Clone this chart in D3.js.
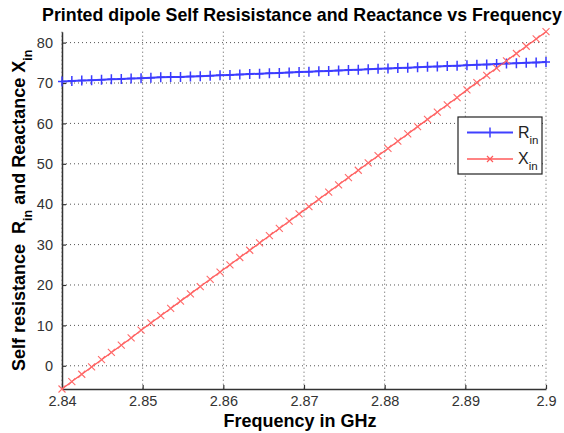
<!DOCTYPE html>
<html>
<head>
<meta charset="utf-8">
<script src="https://cdn.jsdelivr.net/npm/d3@7"></script>
<style>
body { margin: 0; background: #fff; }
svg { font-family: "Liberation Sans", Arial, sans-serif; }
.grid line { stroke: #555; stroke-dasharray: 1,3; }
</style>
</head>
<body>
<div id="chart"></div>
<script>
// frequency points (GHz), 50 samples
var freq = [2.84, 2.84122, 2.84245, 2.84367, 2.8449, 2.84612, 2.84735, 2.84857, 2.8498, 2.85102,
    2.85224, 2.85347, 2.85469, 2.85592, 2.85714, 2.85837, 2.85959, 2.86082, 2.86204, 2.86327,
    2.86449, 2.86571, 2.86694, 2.86816, 2.86939, 2.87061, 2.87184, 2.87306, 2.87429, 2.87551,
    2.87673, 2.87796, 2.87918, 2.88041, 2.88163, 2.88286, 2.88408, 2.88531, 2.88653, 2.88776,
    2.88898, 2.8902, 2.89143, 2.89265, 2.89388, 2.8951, 2.89633, 2.89755, 2.89878, 2.9];
var rin = [70.4, 70.5, 70.6, 70.7, 70.8, 70.9, 71.0, 71.1, 71.2, 71.3,
    71.4, 71.5, 71.5, 71.6, 71.7, 71.8, 71.9, 72.0, 72.1, 72.2,
    72.3, 72.4, 72.5, 72.6, 72.7, 72.8, 72.9, 73.0, 73.1, 73.2,
    73.3, 73.4, 73.5, 73.6, 73.7, 73.8, 73.9, 74.0, 74.1, 74.2,
    74.3, 74.4, 74.5, 74.6, 74.7, 74.8, 74.9, 75.0, 75.1, 75.2];
var xin = [-5.75, -3.9, -2.1, -0.3, 1.5, 3.3, 5.1, 6.9, 8.8, 10.6,
    12.4, 14.2, 16.0, 17.8, 19.6, 21.4, 23.2, 25.0, 26.8, 28.6,
    30.4, 32.2, 34.0, 35.8, 37.6, 39.4, 41.2, 43.0, 44.8, 46.6,
    48.4, 50.2, 52.0, 53.8, 55.6, 57.4, 59.2, 61.0, 62.8, 64.6,
    66.4, 68.3, 70.1, 71.9, 73.7, 75.5, 77.3, 79.1, 80.9, 82.7];
var xTicks = [2.84, 2.85, 2.86, 2.87, 2.88, 2.89, 2.9];
var yTicks = [0, 10, 20, 30, 40, 50, 60, 70, 80];

var width = 564, height = 433;
var pLeft = 62, pRight = 546, pTop = 31.7, pBottom = 389;

var svg = d3.select("#chart").append("svg")
    .attr("width", width)
    .attr("height", height);

var x = d3.scaleLinear().domain([2.84, 2.9]).range([pLeft, pRight]);
var y = d3.scaleLinear().domain([-5.75, 82.7]).range([pBottom, pTop]);

// grid
var grid = svg.append("g").attr("class", "grid");
grid.selectAll(".gx").data(xTicks).enter().append("line")
    .attr("x1", function (d) { return x(d); }).attr("x2", function (d) { return x(d); })
    .attr("y1", pTop).attr("y2", pBottom);
grid.selectAll(".gy").data(yTicks).enter().append("line")
    .attr("x1", pLeft).attr("x2", pRight)
    .attr("y1", function (d) { return y(d); }).attr("y2", function (d) { return y(d); });

// axes with inward ticks
var xAxis = svg.append("g")
    .attr("transform", "translate(0," + pBottom + ")")
    .call(d3.axisBottom(x).tickValues(xTicks).tickSizeInner(-4).tickSizeOuter(0).tickPadding(7)
        .tickFormat(function (d) { return String(+d.toFixed(2)); }));
var yAxis = svg.append("g")
    .attr("transform", "translate(" + pLeft + ",0)")
    .call(d3.axisLeft(y).tickValues(yTicks).tickSizeInner(-4).tickSizeOuter(0).tickPadding(9));

[xAxis, yAxis].forEach(function (a) {
    a.select(".domain").attr("stroke", "#333").attr("stroke-width", 1.5);
    a.selectAll(".tick line").attr("stroke", "#333").attr("stroke-width", 1.2);
    a.selectAll(".tick text").attr("fill", "#333").style("font-size", "14.5px")
        .style("font-family", "'Liberation Sans', Arial, sans-serif");
});

// lines
var line = function (vals) {
    return d3.line()
        .x(function (d, i) { return x(freq[i]); })
        .y(function (d) { return y(d); })(vals);
};

svg.append("path").attr("d", line(rin))
    .attr("fill", "none").attr("stroke", "#4040ff").attr("stroke-width", 2);
svg.append("path").attr("d", line(xin))
    .attr("fill", "none").attr("stroke", "#ff5a5a").attr("stroke-width", 1.3);

// markers
svg.append("g").selectAll("path").data(rin).enter().append("path")
    .attr("d", function (d, i) {
        var cx = x(freq[i]), cy = y(d);
        return "M" + (cx - 4) + "," + cy + "H" + (cx + 4) + "M" + cx + "," + (cy - 5) + "V" + (cy + 5);
    })
    .attr("stroke", "#3a3aff").attr("stroke-width", 1.5);
svg.append("g").selectAll("path").data(xin).enter().append("path")
    .attr("d", function (d, i) {
        var cx = x(freq[i]), cy = y(d);
        return "M" + (cx - 3.5) + "," + (cy - 3.5) + "L" + (cx + 3.5) + "," + (cy + 3.5) +
            "M" + (cx - 3.5) + "," + (cy + 3.5) + "L" + (cx + 3.5) + "," + (cy - 3.5);
    })
    .attr("stroke", "#ff6a6a").attr("stroke-width", 1.1);

// title
svg.append("text")
    .attr("x", (pLeft + pRight) / 2 - 2).attr("y", 21)
    .attr("text-anchor", "middle")
    .style("font-size", "17.8px").style("font-weight", "bold")
    .text("Printed dipole Self Resisistance and Reactance vs Frequency");

// x label
svg.append("text")
    .attr("x", (pLeft + pRight) / 2 - 4).attr("y", 427)
    .attr("text-anchor", "middle")
    .style("font-size", "18px").style("font-weight", "bold")
    .text("Frequency in GHz");

// y label
var yl = svg.append("text")
    .attr("transform", "translate(25," + ((pTop + pBottom) / 2) + ") rotate(-90)")
    .attr("text-anchor", "middle")
    .style("font-size", "18px").style("font-weight", "bold");
yl.append("tspan").text("Self resistance \u00a0R");
yl.append("tspan").attr("baseline-shift", "sub").style("font-size", "12.5px").text("in");
yl.append("tspan").text(" and Reactance X");
yl.append("tspan").attr("baseline-shift", "sub").style("font-size", "12.5px").text("in");

// legend
var lg = svg.append("g");
lg.append("rect").attr("x", 458).attr("y", 117).attr("width", 84).attr("height", 57)
    .attr("fill", "#fff").attr("stroke", "#222").attr("stroke-width", 1.2);
var legendItems = [
    { name: "R", color: "#4040ff", y: 132.5, mark: "plus" },
    { name: "X", color: "#ff5a5a", y: 159, mark: "x" }
];
legendItems.forEach(function (it) {
    lg.append("line").attr("x1", 467).attr("x2", 513).attr("y1", it.y).attr("y2", it.y)
        .attr("stroke", it.color).attr("stroke-width", it.mark == "plus" ? 2 : 1.5);
    var cx = 490;
    if (it.mark == "plus") {
        lg.append("path").attr("d", "M" + cx + "," + (it.y - 5) + "V" + (it.y + 5))
            .attr("stroke", it.color).attr("stroke-width", 1.5);
    } else {
        lg.append("path").attr("d", "M" + (cx - 3) + "," + (it.y - 3) + "L" + (cx + 3) + "," + (it.y + 3) +
            "M" + (cx - 3) + "," + (it.y + 3) + "L" + (cx + 3) + "," + (it.y - 3))
            .attr("stroke", it.color).attr("stroke-width", 1.2);
    }
    var t = lg.append("text").attr("x", 518).attr("y", it.y + 5)
        .style("font-size", "16px").attr("fill", "#222");
    t.append("tspan").text(it.name);
    t.append("tspan").attr("baseline-shift", "sub").style("font-size", "11.5px").text("in");
});
</script>
</body>
</html>
